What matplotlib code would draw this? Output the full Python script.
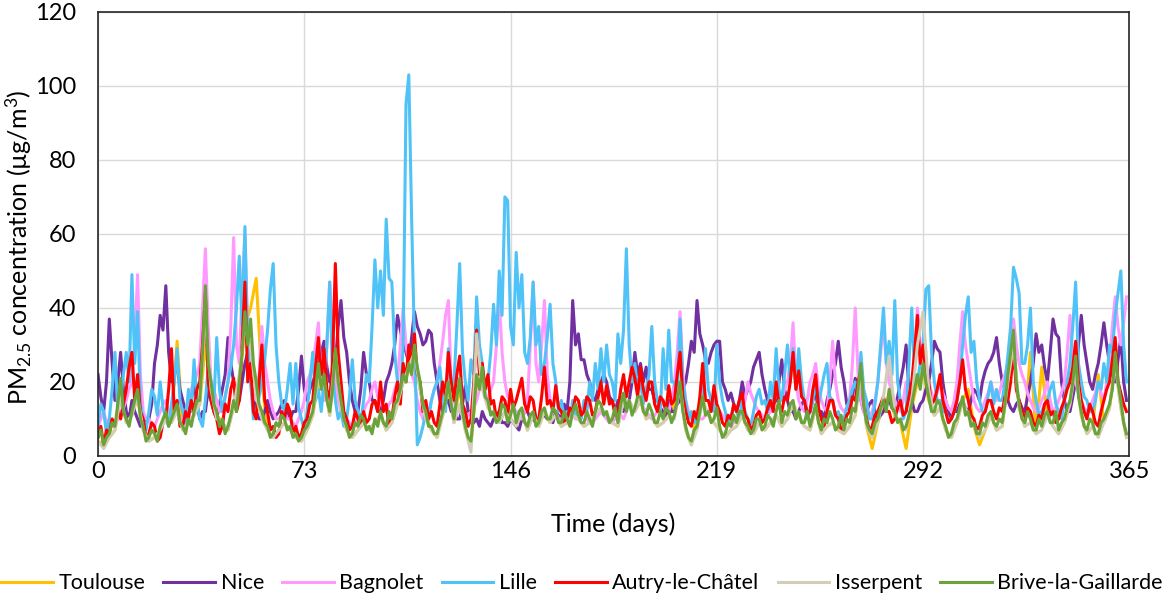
import numpy as np
import matplotlib.pyplot as plt

plt.rcParams['font.family'] = ['Lato', 'DejaVu Sans']
plt.rcParams['mathtext.default'] = 'regular'

# daily readings (day 0 .. 364) for the sites that show on top,
# every second day for the two that stay mostly hidden underneath
days = list(range(0, 365))
days2 = list(range(0, 365, 2))

toulouse = [4, 3, 5, 7, 18, 9, 11, 16, 7, 4,
            5, 7, 11, 9, 31, 7, 9, 11, 14, 30,
            18, 11, 9, 7, 14, 19, 35, 40, 48, 20,
            7, 5, 7, 9, 7, 5, 4, 7, 11, 20,
            20, 11, 26, 13, 7, 5, 7, 9, 7, 9,
            11, 7, 9, 14, 20, 23, 27, 18, 11, 7,
            5, 11, 18, 9, 19, 7, 3, 20, 21, 13,
            11, 9, 12, 10, 8, 12, 7, 11, 8, 12,
            9, 11, 8, 9, 11, 10, 8, 9, 11, 13,
            11, 9, 8, 16, 14, 12, 15, 10, 11, 8,
            9, 11, 14, 18, 7, 3, 12, 15, 11, 9,
            7, 5, 7, 8, 11, 7, 6, 9, 7, 9,
            11, 8, 10, 14, 11, 8, 7, 13, 6, 8,
            9, 7, 6, 8, 11, 22, 8, 2, 9, 14,
            16, 11, 9, 2, 13, 20, 23, 15, 11, 13,
            7, 5, 9, 15, 18, 8, 3, 7, 11, 7,
            8, 20, 30, 13, 8, 28, 6, 24, 11, 8,
            6, 9, 14, 24, 11, 6, 8, 22, 9, 13,
            25, 13, 5]

nice = [22, 16, 12, 20, 37, 25, 15, 20, 28, 18, 12, 10, 15, 12, 10, 8, 8, 10, 10, 14,
        25, 30, 38, 34, 46, 28, 20, 22, 25, 18, 15, 12, 12, 15, 20, 14, 10, 12, 12, 18,
        15, 12, 10, 14, 18, 22, 32, 25, 20, 16, 15, 20, 25, 28, 20, 16, 12, 10, 10, 12,
        15, 12, 10, 11, 12, 14, 15, 12, 10, 12, 12, 18, 27, 18, 15, 18, 20, 22, 25, 28,
        31, 24, 20, 22, 25, 35, 42, 32, 28, 20, 15, 12, 12, 18, 28, 22, 20, 15, 15, 12,
        12, 15, 20, 22, 25, 30, 38, 34, 30, 28, 25, 32, 39, 35, 33, 30, 31, 34, 33, 25,
        20, 15, 12, 14, 15, 12, 12, 10, 10, 14, 19, 12, 12, 9, 10, 8, 12, 10, 9, 8,
        10, 11, 12, 9, 9, 8, 10, 9, 8, 7, 10, 12, 12, 10, 10, 9, 9, 11, 11, 10,
        10, 9, 12, 11, 10, 14, 12, 20, 42, 30, 33, 26, 26, 22, 20, 16, 15, 18, 20, 22,
        20, 16, 15, 12, 15, 13, 12, 14, 15, 20, 28, 22, 25, 20, 24, 18, 18, 15, 15, 13,
        12, 10, 15, 12, 12, 14, 15, 18, 20, 25, 31, 28, 42, 33, 30, 26, 25, 28, 30, 31,
        31, 20, 18, 15, 17, 14, 12, 15, 20, 16, 18, 20, 24, 26, 28, 22, 18, 15, 12, 14,
        15, 20, 26, 18, 15, 12, 12, 10, 12, 14, 15, 12, 12, 15, 17, 12, 12, 10, 15, 18,
        22, 25, 31, 24, 20, 14, 12, 16, 21, 18, 15, 12, 12, 14, 15, 12, 10, 11, 12, 14,
        15, 13, 12, 16, 20, 24, 30, 18, 15, 12, 12, 14, 15, 18, 20, 25, 31, 29, 28, 20,
        15, 12, 10, 12, 12, 14, 15, 13, 12, 15, 18, 17, 15, 20, 23, 25, 26, 28, 32, 25,
        20, 18, 15, 13, 12, 14, 15, 13, 12, 16, 20, 25, 33, 28, 30, 24, 20, 28, 37, 33,
        32, 20, 15, 12, 12, 16, 20, 30, 38, 30, 25, 20, 18, 22, 25, 30, 36, 30, 25, 22,
        20, 26, 32, 20, 15]

bagnolet = [8, 10, 12, 9, 10, 8, 8, 10, 12, 13, 15, 18, 20, 30, 49, 22, 12, 10, 10, 8,
            8, 10, 12, 14, 15, 12, 10, 11, 12, 10, 10, 12, 15, 18, 20, 22, 25, 40, 56, 35,
            20, 18, 15, 12, 12, 16, 20, 35, 59, 30, 25, 45, 60, 32, 20, 16, 15, 22, 35, 25,
            20, 15, 12, 10, 10, 11, 12, 10, 10, 9, 8, 10, 12, 15, 20, 22, 25, 30, 36, 20,
            15, 30, 47, 35, 20, 15, 12, 10, 10, 9, 8, 9, 10, 11, 12, 14, 15, 18, 20, 16,
            15, 13, 12, 14, 15, 18, 20, 30, 40, 30, 25, 22, 20, 15, 12, 10, 10, 12, 15, 18,
            20, 25, 31, 38, 42, 20, 15, 12, 12, 11, 10, 11, 12, 13, 15, 18, 20, 17, 15, 18,
            20, 30, 42, 28, 20, 16, 15, 13, 12, 10, 10, 12, 15, 30, 47, 25, 20, 30, 42, 22,
            15, 13, 12, 10, 10, 9, 9, 10, 11, 10, 10, 11, 12, 10, 9, 9, 10, 11, 12, 11,
            10, 9, 9, 10, 12, 11, 10, 12, 15, 13, 12, 14, 15, 13, 12, 11, 10, 11, 12, 13,
            15, 13, 12, 15, 20, 28, 39, 22, 15, 12, 10, 11, 12, 10, 10, 11, 12, 13, 15, 13,
            12, 11, 10, 9, 8, 9, 10, 11, 12, 15, 20, 17, 15, 13, 12, 11, 10, 11, 12, 14,
            17, 16, 15, 18, 20, 25, 36, 20, 15, 13, 12, 15, 20, 22, 25, 18, 15, 13, 12, 20,
            31, 20, 15, 13, 12, 13, 15, 25, 40, 22, 15, 12, 10, 11, 12, 15, 20, 28, 36, 25,
            20, 17, 15, 13, 12, 15, 20, 17, 15, 25, 40, 30, 25, 22, 20, 17, 15, 17, 20, 17,
            15, 13, 12, 15, 20, 30, 39, 30, 25, 20, 15, 13, 12, 13, 15, 17, 20, 17, 15, 17,
            20, 22, 25, 30, 37, 30, 25, 22, 20, 17, 15, 13, 12, 13, 15, 17, 20, 15, 12, 13,
            15, 17, 20, 28, 38, 25, 20, 17, 15, 13, 12, 13, 15, 17, 20, 17, 15, 20, 25, 35,
            43, 35, 30, 36, 43]

lille = [8, 14, 12, 6, 10, 18, 28, 12, 15, 22, 28, 20, 49, 25, 39, 14, 10, 7, 12, 18,
         16, 11, 20, 13, 10, 8, 14, 20, 29, 15, 12, 9, 18, 12, 26, 15, 10, 8, 15, 24,
         20, 14, 32, 18, 12, 16, 20, 24, 30, 40, 54, 35, 62, 30, 20, 10, 12, 16, 20, 26,
         34, 45, 52, 30, 20, 14, 12, 18, 25, 14, 25, 13, 10, 7, 12, 20, 28, 15, 18, 12,
         20, 30, 47, 22, 15, 10, 12, 8, 10, 16, 26, 15, 12, 9, 15, 22, 20, 35, 53, 40,
         50, 38, 64, 48, 47, 28, 20, 16, 30, 95, 103, 64, 30, 3, 5, 8, 12, 10, 15, 18,
         20, 24, 15, 12, 29, 18, 20, 35, 52, 28, 20, 15, 26, 22, 43, 30, 25, 18, 20, 28,
         41, 30, 50, 38, 70, 69, 35, 30, 55, 40, 49, 28, 25, 32, 47, 30, 35, 22, 25, 32,
         41, 25, 20, 12, 15, 10, 12, 9, 15, 11, 12, 10, 15, 12, 20, 15, 25, 18, 29, 20,
         30, 22, 20, 15, 33, 25, 34, 56, 30, 20, 25, 18, 20, 14, 18, 22, 35, 20, 15, 12,
         29, 18, 34, 20, 20, 15, 37, 20, 15, 10, 12, 9, 10, 12, 15, 29, 18, 15, 12, 30,
         20, 15, 12, 9, 10, 14, 12, 10, 15, 12, 10, 8, 12, 16, 18, 14, 15, 12, 20, 15,
         29, 18, 15, 22, 30, 20, 29, 18, 29, 20, 15, 10, 12, 15, 20, 14, 18, 22, 25, 16,
         15, 11, 12, 9, 10, 13, 15, 18, 20, 15, 28, 18, 15, 10, 10, 14, 20, 30, 40, 25,
         31, 22, 42, 20, 15, 10, 12, 25, 40, 22, 20, 25, 30, 45, 46, 28, 20, 15, 15, 12,
         12, 9, 10, 12, 15, 20, 30, 38, 43, 28, 31, 20, 15, 12, 12, 16, 20, 14, 18, 15,
         15, 20, 27, 35, 51, 48, 44, 25, 25, 30, 40, 20, 15, 11, 12, 14, 15, 18, 20, 14,
         12, 10, 15, 20, 25, 35, 47, 25, 20, 16, 15, 12, 12, 15, 20, 18, 25, 20, 30, 28,
         38, 44, 50, 30, 20]

autry = [5, 8, 3, 7, 6, 10, 8, 12, 10, 14, 18, 24, 28, 15, 22, 12, 10, 5, 6, 9,
         8, 4, 5, 9, 10, 18, 29, 12, 15, 8, 8, 12, 10, 15, 12, 18, 20, 30, 44, 20,
         15, 12, 10, 6, 8, 14, 12, 18, 21, 12, 15, 30, 47, 20, 25, 12, 10, 20, 30, 15,
         12, 7, 8, 5, 6, 12, 10, 14, 12, 6, 8, 5, 6, 9, 10, 14, 15, 24, 32, 20,
         29, 18, 15, 25, 52, 28, 20, 12, 10, 7, 8, 12, 10, 8, 12, 9, 10, 14, 15, 12,
         20, 12, 14, 8, 10, 16, 20, 14, 25, 20, 30, 24, 33, 22, 20, 12, 15, 10, 12, 9,
         8, 14, 20, 16, 28, 20, 15, 22, 27, 14, 12, 8, 10, 20, 34, 22, 25, 18, 22, 14,
         15, 10, 12, 16, 15, 11, 18, 13, 15, 18, 21, 14, 12, 16, 15, 10, 10, 16, 24, 14,
         15, 12, 19, 13, 12, 9, 10, 13, 12, 16, 15, 11, 12, 16, 15, 11, 12, 16, 20, 14,
         19, 14, 15, 11, 12, 18, 22, 16, 20, 24, 21, 16, 24, 18, 15, 20, 20, 14, 12, 16,
         15, 12, 19, 14, 15, 22, 28, 16, 12, 9, 8, 12, 10, 16, 25, 15, 15, 12, 19, 14,
         12, 9, 8, 11, 10, 14, 12, 15, 17, 11, 10, 7, 8, 11, 12, 9, 10, 13, 15, 12,
         20, 14, 12, 16, 15, 20, 28, 18, 23, 16, 15, 11, 12, 18, 22, 13, 10, 8, 12, 15,
         15, 11, 10, 7, 8, 11, 12, 16, 15, 20, 23, 14, 10, 7, 8, 11, 12, 14, 16, 12,
         12, 9, 10, 13, 15, 11, 12, 16, 20, 28, 38, 25, 30, 22, 20, 14, 15, 18, 22, 15,
         12, 9, 10, 12, 15, 20, 26, 18, 15, 11, 10, 7, 8, 11, 12, 15, 15, 12, 10, 13,
         12, 16, 15, 20, 29, 18, 15, 12, 10, 13, 12, 9, 8, 11, 10, 14, 15, 11, 12, 9,
         10, 13, 15, 18, 20, 24, 31, 20, 15, 12, 10, 14, 12, 9, 8, 12, 15, 18, 20, 26,
         32, 20, 17, 14, 12]

isserpent = [4, 2, 5, 7, 16, 9, 11, 16, 7, 4,
             5, 7, 10, 9, 12, 7, 9, 11, 14, 39,
             18, 10, 9, 7, 13, 22, 35, 30, 16, 10,
             7, 5, 7, 9, 7, 5, 4, 7, 11, 22,
             20, 11, 28, 13, 7, 5, 7, 9, 7, 9,
             11, 7, 9, 14, 20, 24, 28, 18, 10, 7,
             5, 11, 20, 9, 14, 7, 1, 33, 18, 13,
             11, 9, 12, 10, 8, 12, 7, 11, 8, 12,
             9, 11, 8, 9, 11, 10, 8, 9, 11, 13,
             11, 9, 8, 15, 15, 12, 15, 10, 11, 8,
             9, 11, 10, 19, 7, 3, 7, 15, 11, 9,
             7, 5, 7, 8, 11, 7, 6, 9, 7, 9,
             11, 8, 10, 14, 11, 8, 7, 13, 6, 8,
             9, 7, 6, 8, 11, 22, 8, 5, 9, 16,
             27, 11, 9, 7, 15, 30, 39, 18, 11, 13,
             7, 5, 9, 15, 11, 8, 5, 7, 11, 7,
             8, 20, 30, 13, 8, 9, 6, 7, 11, 8,
             6, 9, 14, 24, 11, 6, 8, 5, 9, 13,
             25, 13, 5]

brive = [5, 7, 3, 5, 6, 9, 8, 14, 21, 12, 10, 8, 12, 15, 18, 10, 8, 4, 5, 7,
         6, 4, 8, 10, 12, 8, 10, 12, 14, 9, 8, 6, 10, 8, 12, 15, 15, 28, 46, 25,
         20, 14, 12, 8, 10, 6, 8, 11, 15, 12, 20, 28, 39, 30, 37, 25, 20, 14, 12, 9,
         8, 5, 6, 9, 8, 11, 10, 7, 8, 5, 6, 4, 5, 7, 8, 10, 12, 18, 25, 18,
         22, 15, 12, 18, 29, 20, 15, 10, 8, 5, 6, 9, 8, 11, 10, 7, 8, 6, 10, 8,
         12, 9, 8, 12, 10, 14, 15, 18, 22, 20, 25, 22, 30, 24, 20, 14, 12, 8, 8, 6,
         6, 9, 12, 15, 20, 14, 10, 16, 21, 12, 8, 5, 4, 12, 22, 18, 24, 16, 15, 11,
         12, 9, 10, 14, 13, 9, 11, 14, 9, 12, 13, 9, 8, 11, 12, 8, 9, 12, 13, 10,
         10, 13, 12, 9, 9, 12, 10, 8, 12, 14, 11, 9, 9, 12, 10, 8, 12, 15, 14, 11,
         12, 9, 10, 13, 9, 14, 17, 12, 15, 11, 13, 16, 16, 12, 11, 14, 12, 9, 9, 12,
         10, 13, 12, 9, 11, 15, 20, 12, 8, 5, 4, 7, 8, 12, 16, 11, 12, 9, 10, 13,
         8, 5, 6, 9, 8, 11, 9, 12, 12, 9, 8, 6, 7, 10, 10, 7, 8, 11, 10, 8,
         12, 15, 9, 12, 11, 14, 15, 10, 12, 9, 9, 12, 8, 11, 14, 9, 7, 10, 9, 12,
         10, 7, 8, 11, 7, 10, 9, 13, 12, 18, 25, 14, 9, 7, 6, 9, 10, 13, 15, 12,
         18, 13, 12, 9, 10, 7, 8, 11, 14, 18, 22, 18, 25, 20, 16, 12, 12, 15, 14, 10,
         8, 5, 6, 9, 10, 13, 16, 11, 12, 8, 9, 6, 6, 9, 8, 11, 12, 9, 8, 10,
         9, 14, 22, 28, 34, 20, 14, 10, 9, 12, 10, 7, 7, 10, 8, 11, 12, 9, 9, 12,
         7, 9, 10, 13, 15, 20, 27, 16, 12, 8, 7, 10, 9, 6, 6, 9, 10, 12, 14, 18,
         28, 20, 15, 9, 6]

sites = ['Toulouse', 'Nice', 'Bagnolet', 'Lille', 'Autry-le-Châtel',
         'Isserpent', 'Brive-la-Gaillarde']
series = [(days2, toulouse), (days, nice), (days, bagnolet), (days, lille),
          (days, autry), (days2, isserpent), (days, brive)]
colors = ['#FFC000', '#7030A0', '#FF99FF', '#4FC3F7', '#FF0000',
          '#D2CDB6', '#6AA33A']

fig = plt.figure(figsize=(11.64, 5.96), dpi=100)
ax = fig.add_axes([0.0842, 0.235, 0.886, 0.745])

for name, (x, vals), c in zip(sites, series, colors):
    ax.plot(x, vals, color=c, lw=2.2, label=name)

ax.set_xlim(0, 365)
ax.set_ylim(0, 120)
ax.set_xticks([0, 73, 146, 219, 292, 365])
ax.set_yticks(range(0, 121, 20))
ax.grid(True, color='#D9D9D9', lw=1)
ax.set_axisbelow(True)
ax.tick_params(length=0, labelsize=17)
ax.tick_params(axis='y', pad=16)
ax.tick_params(axis='x', pad=4)
for s in ax.spines.values():
    s.set_color('#262626')
    s.set_linewidth(1.2)

ax.set_xlabel('Time (days)', fontsize=18, va='center')
ax.xaxis.set_label_coords(0.5, -0.153)
ax.set_ylabel('PM$_{2.5}$ concentration (µg/m$^3$)', fontsize=18, va='center')
ax.yaxis.set_label_coords(-0.077, 0.47)

fig.legend(loc='lower center', bbox_to_anchor=(0.5, -0.028), ncol=7,
           frameon=False, fontsize=15.5, handlelength=2.4, handletextpad=0.25,
           columnspacing=0.85)

fig.savefig('out.png', dpi=100)
